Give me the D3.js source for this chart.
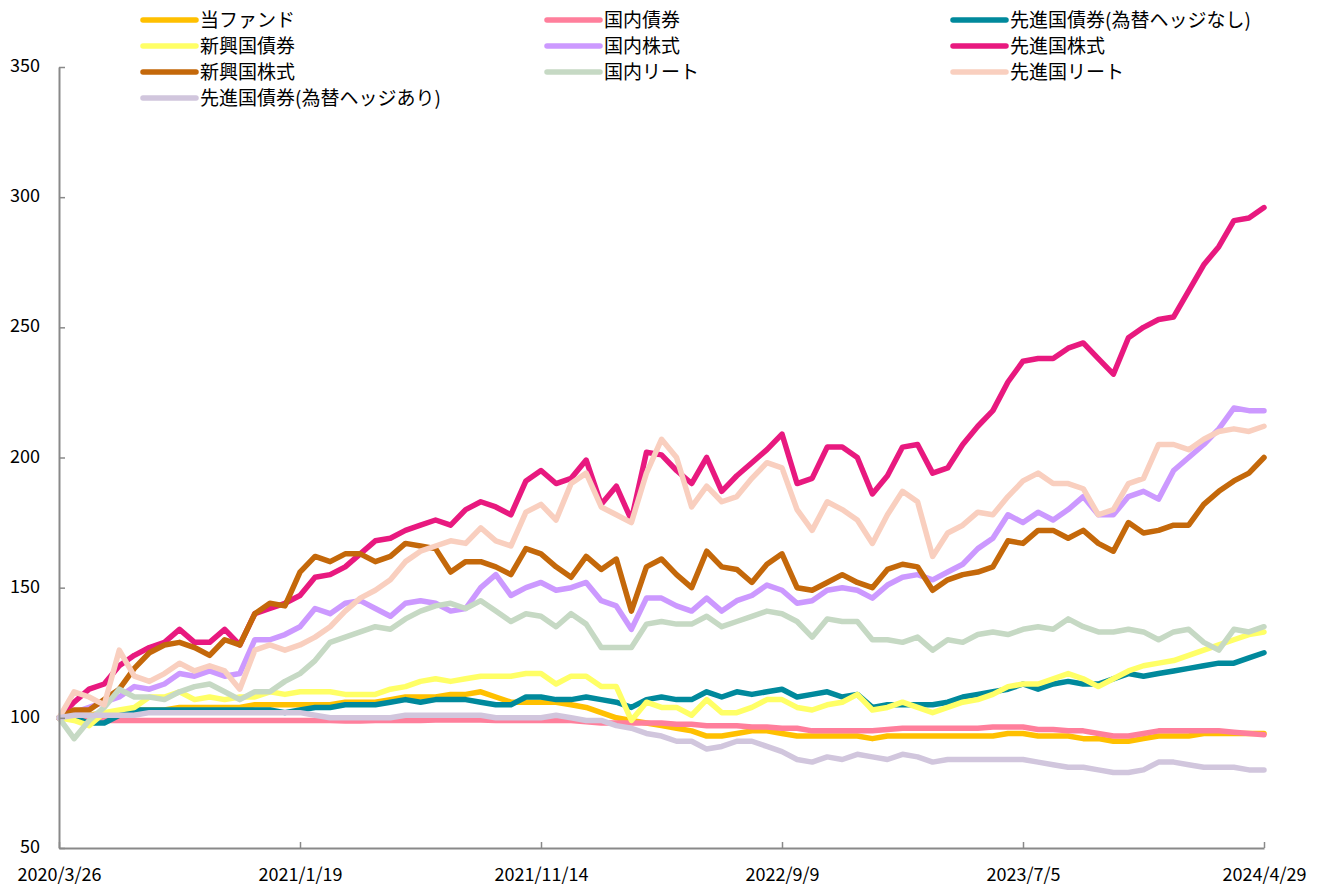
<!DOCTYPE html>
<html><head><meta charset="utf-8">
<script src="https://cdn.jsdelivr.net/npm/d3@7"></script>
<style>
body{margin:0;background:#fff}
svg text{font-family:"Noto Sans CJK JP","Noto Sans",sans-serif;fill:#000}
</style>
</head><body>
<svg id="chart" width="1320" height="885"></svg>
<script>
// ---- data ----
const startDate = "2020/3/26";
const endDate = "2024/4/29";
const xTickLabels = ["2020/3/26","2021/1/19","2021/11/14","2022/9/9","2023/7/5","2024/4/29"];
const yTickValues = [50,100,150,200,250,300,350];
const seriesNames = ["当ファンド","国内債券","先進国債券(為替ヘッジなし)","新興国債券","国内株式","先進国株式","新興国株式","国内リート","先進国リート","先進国債券(為替ヘッジあり)"];

const fund = [100,101,101,102,102,103,103,103,104,104, 104,104,104,105,105,105,105,105,105,106, 106,106,107,108,108,108,109,109,110,108, 106,106,106,106,105,104,102,100,99,98, 97,96,95,93,93,94,95,95,94,93, 93,93,93,93,92,93,93,93,93,93, 93,93,93,94,94,93,93,93,92,92, 91,91,92,93,93,93,94,94,94,94, 94];
const domesticBond = [100,100,99.5,99,99,99,99,99,99,99, 99,99,99,99,99,99,99,99,99,98.8, 98.8,99,99,99,99,99.2,99.2,99.2,99.2,99, 99,99,99,99,99,98.5,98,98,98,98, 98,97.5,97.5,97,97,97,96.5,96.5,96,96, 95,95,95,95,95,95.5,96,96,96,96, 96,96,96.5,96.5,96.5,95.5,95.5,95,95,94, 93,93,94,95,95,95,95,95,94.5,94, 93.5];
const devBondUnhedged = [100,100,98,98,101,103,103,103,103,103, 103,103,103,103,103,102,103,104,104,105, 105,105,106,107,106,107,107,107,106,105, 105,108,108,107,107,108,107,106,104,107, 108,107,107,110,108,110,109,110,111,108, 109,110,108,109,104,105,105,105,105,106, 108,109,110,111,113,111,113,114,113,113, 115,117,116,117,118,119,120,121,121,123, 125];
const emBond = [100,99,97,102,103,104,108,108,110,107, 108,107,108,108,110,109,110,110,110,109, 109,109,111,112,114,115,114,115,116,116, 116,117,117,113,116,116,112,112,99,106, 104,104,101,107,102,102,104,107,107,104, 103,105,106,109,103,104,106,104,102,104, 106,107,109,112,113,113,115,117,115,112, 115,118,120,121,122,124,126,128,130,132, 133];
const domesticStock = [100,102,104,106,108,112,111,113,117,116, 118,116,117,130,130,132,135,142,140,144, 145,142,139,144,145,144,141,142,150,155, 147,150,152,149,150,152,145,143,134,146, 146,143,141,146,141,145,147,151,149,144, 145,149,150,149,146,151,154,155,153,156, 159,165,169,178,175,179,176,180,185,178, 178,185,187,184,195,200,205,211,219,218, 218];
const devStock = [100,106,111,113,120,124,127,129,134,129, 129,134,128,140,142,144,147,154,155,158, 163,168,169,172,174,176,174,180,183,181, 178,191,195,190,192,199,182,189,176,202, 201,195,190,200,187,193,198,203,209,190, 192,204,204,200,186,193,204,205,194,196, 205,212,218,229,237,238,238,242,244,238, 232,246,250,253,254,264,274,281,291,292, 296];
const emStock = [100,103,103,107,111,119,125,128,129,127, 124,130,128,140,144,143,156,162,160,163, 163,160,162,167,166,165,156,160,160,158, 155,165,163,158,154,162,157,161,141,158, 161,155,150,164,158,157,152,159,163,150, 149,152,155,152,150,157,159,158,149,153, 155,156,158,168,167,172,172,169,172,167, 164,175,171,172,174,174,182,187,191,194, 200];
const domesticReit = [100,92,99,104,111,108,108,107,110,112, 113,110,107,110,110,114,117,122,129,131, 133,135,134,138,141,143,144,142,145,141, 137,140,139,135,140,136,127,127,127,136, 137,136,136,139,135,137,139,141,140,137, 131,138,137,137,130,130,129,131,126,130, 129,132,133,132,134,135,134,138,135,133, 133,134,133,130,133,134,129,126,134,133, 135];
const devReit = [100,110,108,105,126,116,114,117,121,118, 120,118,111,126,128,126,128,131,135,141, 146,149,153,160,164,166,168,167,173,168, 166,179,182,176,190,194,181,178,175,194, 207,200,181,189,183,185,192,198,196,180, 172,183,180,176,167,178,187,183,162,171, 174,179,178,185,191,194,190,190,188,178, 180,190,192,205,205,203,207,210,211,210, 212];
const devBondHedged = [100,101,101,101,101,101,102,102,102,102, 102,102,102,102,102,102,102,101,100,100, 100,100,100,101,101,101,101,101,101,100, 100,100,100,101,100,99,99,97,96,94, 93,91,91,88,89,91,91,89,87,84, 83,85,84,86,85,84,86,85,83,84, 84,84,84,84,84,83,82,81,81,80, 79,79,80,83,83,82,81,81,81,80, 80];

const seriesValues = [fund,domesticBond,devBondUnhedged,emBond,domesticStock,devStock,emStock,domesticReit,devReit,devBondHedged];
const seriesColors = ["#FFC000","#FF7F9C","#00899C","#FFFF66","#CC99FF","#E8197F","#C4680A","#C6D9C4","#F9CFBF","#D1C6DD"];

// ---- chart ----
const parse = d3.timeParse("%Y/%m/%d");
const t0 = parse(startDate), t1 = parse(endDate);
const n = fund.length;
const dates = d3.range(n).map(i => new Date(+t0 + (t1 - t0) * i / (n - 1)));

const svg = d3.select("#chart");
const x = d3.scaleTime().domain([t0, t1]).range([59, 1264]);
const y = d3.scaleLinear().domain([50, 350]).range([848, 67]);
const axisColor = "#898989";
const fontSize = 18;

// series
const line = d3.line().x((d, i) => x(dates[i])).y(d => y(d));
svg.append("g").selectAll("path").data(seriesValues).join("path")
  .attr("d", line).attr("fill", "none")
  .attr("stroke", (d, i) => seriesColors[i])
  .attr("stroke-width", 5.5).attr("stroke-linejoin", "round").attr("stroke-linecap", "round");

// y axis
const gy = svg.append("g").attr("transform", "translate(59,0)")
  .call(d3.axisLeft(y).tickValues(yTickValues).tickSizeInner(-6).tickSizeOuter(0).tickPadding(19).tickFormat(d3.format("d")));
gy.attr("font-family", null).attr("font-size", null);
gy.select(".domain").attr("stroke", axisColor).attr("stroke-width", 2);
gy.selectAll(".tick line").attr("stroke", axisColor).attr("stroke-width", 1.5);
gy.selectAll(".tick text").attr("font-size", fontSize).attr("dy", "0.25em");

// x axis
const gx = svg.append("g").attr("transform", "translate(0,848)")
  .call(d3.axisBottom(x).tickValues(xTickLabels.map(parse)).tickSizeInner(-6).tickSizeOuter(0).tickPadding(20).tickFormat(d3.timeFormat("%Y/%-m/%-d")));
gx.attr("font-family", null).attr("font-size", null);
gx.select(".domain").attr("stroke", axisColor).attr("stroke-width", 2);
gx.selectAll(".tick line").attr("stroke", axisColor).attr("stroke-width", 1.5);
gx.selectAll(".tick text").attr("font-size", fontSize);

// legend
const legendCols = [143, 547, 953];
const lg = svg.append("g").selectAll("g").data(seriesNames).join("g")
  .attr("transform", (d, i) => `translate(${legendCols[i % 3]},${20 + Math.floor(i / 3) * 26})`);
lg.append("line").attr("x1", 0).attr("x2", 53).attr("y1", 0).attr("y2", 0)
  .attr("stroke", (d, i) => seriesColors[i]).attr("stroke-width", 5.5).attr("stroke-linecap", "round");
lg.append("text").attr("x", 57).attr("y", 0).attr("dy", "0.36em").attr("font-size", 19).text(d => d);
</script>
</body></html>
